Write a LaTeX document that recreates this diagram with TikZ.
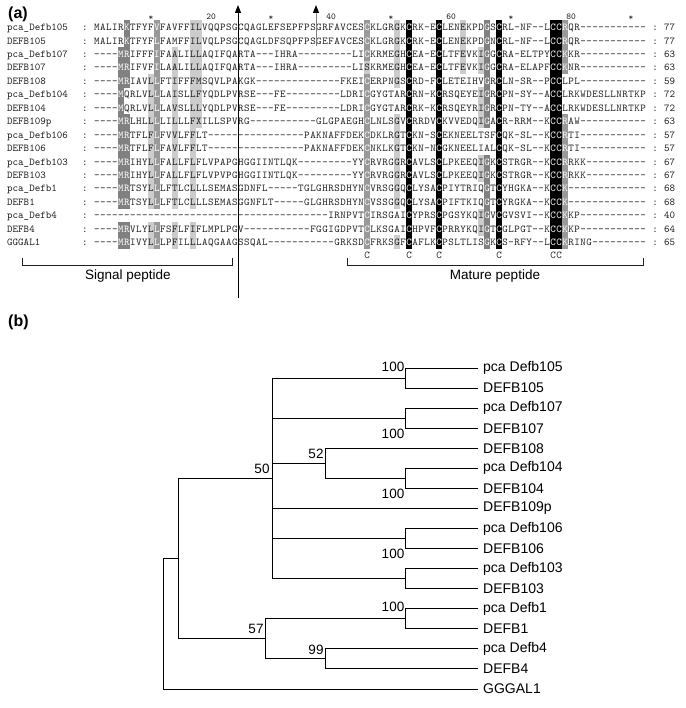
\documentclass[tikz,border=0pt]{standalone}
\usepackage{fontspec}
\setmainfont{Liberation Sans}
\usetikzlibrary{arrows.meta}
\definecolor{seqtext}{gray}{0.12}
\definecolor{shdark}{gray}{0.5}
\definecolor{shmid}{gray}{0.6}
\definecolor{shlight}{gray}{0.8}
\newcount\colc
\def\seqx{97}
\def\pitch{13.45}
\def\yfirst{27}
\def\hp{6.78}
\makeatletter
\newcommand\shadecol[3]{\foreach \r in {#2}{\expandafter\xdef\csname sh@\r @#1\endcsname{#3}}}
\expandafter\def\csname shd.\endcsname{\def\txtcol{seqtext}}
\def\shdb{\fill[black] (\cx-3.1,\rowy-\hp) rectangle (\cx+3.1,\rowy+\hp);\def\txtcol{white}}
\def\shdd{\fill[shdark] (\cx-3.1,\rowy-\hp) rectangle (\cx+3.1,\rowy+\hp);\def\txtcol{white}}
\def\shdm{\fill[shmid] (\cx-3.1,\rowy-\hp) rectangle (\cx+3.1,\rowy+\hp);\def\txtcol{white}}
\def\shdl{\fill[shlight] (\cx-3.1,\rowy-\hp) rectangle (\cx+3.1,\rowy+\hp);\def\txtcol{seqtext}}
\newcommand\seqcell[1]{%
  \pgfmathsetmacro\cx{\seqx+(\the\colc-1)*6}%
  \ifcsname sh@\rowno @\the\colc\endcsname
    \edef\sc{\csname sh@\rowno @\the\colc\endcsname}%
  \else\def\sc{.}\fi
  \csname shd\sc\endcsname
  \node[seqch,text=\txtcol] at (\cx,\rowy+3.6) {#1};}
\def\seqloop#1#2\@nil{%
  \global\advance\colc by 1
  \seqcell{#1}%
  \ifx\relax#2\relax\expandafter\@gobble\else\expandafter\@firstofone\fi{\seqloop#2\@nil}}
\newcommand\seqrow[4]{%
  \def\rowno{#1}%
  \pgfmathsetmacro\rowy{\yfirst+(#1-1)*\pitch}%
  \node[seqname] (name#1) at (7,\rowy+3.6) {#2};
  \node[seqch] (cl#1) at (85,\rowy+3.6) {:};
  \global\colc=0
  \seqloop#3\@nil
  \node[seqch] (cr#1) at (655,\rowy+3.6) {:};
  \node[seqname] (num#1) at (664,\rowy+3.6) {#4};}
\makeatother
\begin{document}
\begin{tikzpicture}[x=1pt,y=-1pt,
  seqch/.style={font=\ttfamily\fontsize{10.5}{10.5}\selectfont,inner sep=0pt,anchor=base,text=seqtext},
  seqname/.style={font=\ttfamily\fontsize{10.5}{10.5}\selectfont,inner sep=0pt,anchor=base west,text=seqtext},
  rul/.style={font=\ttfamily\fontsize{9}{9}\selectfont,inner sep=0pt,anchor=base,text=seqtext},
  panel/.style={font=\bfseries\fontsize{16}{16}\selectfont,inner sep=0pt,anchor=base west},
  leaf/.style={font=\fontsize{14}{14}\selectfont,inner sep=0pt,anchor=west},
  boot/.style={font=\fontsize{13.5}{13.5}\selectfont,inner sep=0pt},
  lbl/.style={font=\fontsize{13.5}{13.5}\selectfont,inner sep=0pt,anchor=base},
  branch/.style={line width=0.9pt,line cap=rect},
  brk/.style={line width=0.8pt,seqtext}]
\fill[white] (0,0) rectangle (685,708);
\useasboundingbox (0,0) rectangle (685,708);
% ---------- panel (a)
\node[panel] (pa) at (8,19) {(a)};
\foreach \c in {10,30,50,70,90}{\node[rul] (st\c) at ({\seqx+(\c-1)*6},21) {*};}
\foreach \c in {20,40,60,80}{\node[rul] (nm\c) at ({\seqx+(\c-1)*6},20) {\c};}
% shading
\shadecol{5}{3,...,14,16,17}{d}
\shadecol{6}{1,2,3,4,5,8,9,...,14,16,17}{d}
\shadecol{10}{5,...,14,16,17}{l}
\shadecol{11}{1,...,14,16,17}{m}
\shadecol{14}{3,...,14,16,17}{l}
\shadecol{17}{1,...,14,16,17}{l}
\shadecol{18}{1,...,8}{l}
\shadecol{46}{1,2,3,5,6,...,17}{m}
\shadecol{46}{4}{l}
\shadecol{51}{1,2,3,4,5,8,9,10,11,12,13,14,17}{l}
\shadecol{53}{1,...,17}{b}
\shadecol{58}{1,...,17}{b}
\shadecol{62}{1,2,3,4}{l}
\shadecol{65}{3,4,6,7,8,11,12,15,16}{l}
\shadecol{66}{1,...,8,11,12,13,14,15,16,17}{d}
\shadecol{68}{1,...,17}{b}
\shadecol{77}{1,...,17}{b}
\shadecol{78}{1,...,17}{b}
\shadecol{79}{1,2,3,4,8,9,...,17}{m}
\seqrow{1}{pca\_Defb105}{MALIRKTFYF VFAVFFILVQ QPSGCQAGLE FSEPFPSGRF AVCESCKLGR GKCRK-ECLE NEKPDGSCRL -NF--LCCRQ R-----------}{77}
\seqrow{2}{DEFB105}{MALIRKTFYF LFAMFFILVQ LPSGCQAGLD FSQPFPSGEF AVCESCKLGR GKCRK-ECLE NEKPDGNCRL -NF--LCCRQ R-----------}{77}
\seqrow{3}{pca\_Defb107}{----MRIFFF IFAALILLAQ IFQARTA--- IHRA------ ---LICKRME GHCEA-ECLT FEVKIGGCRA -ELTPYCCKK R-----------}{63}
\seqrow{4}{DEFB107}{----MRIFVF ILAALILLAQ IFQARTA--- IHRA------ ---LISKRME GHCEA-ECLT FEVKIGGCRA -ELAPFCCKN R-----------}{63}
\seqrow{5}{DEFB108}{----MRIAVL LFTIFFFMSQ VLPAKGK--- ---------- -FKEICERPN GSCRD-FCLE TEIHVGRCLN -SR--PCCLP L-----------}{59}
\seqrow{6}{pca\_Defb104}{----MQRLVL LLAISLLFYQ DLPVRSE--- FE-------- -LDRICGYGT ARCRN-KCRS QEYEIGRCPN -SY--ACCLR KWDESLLNRTKP}{72}
\seqrow{7}{DEFB104}{----MQRLVL LLAVSLLLYQ DLPVRSE--- FE-------- -LDRICGYGT ARCRK-KCRS QEYRIGRCPN -TY--ACCLR KWDESLLNRTKP}{72}
\seqrow{8}{DEFB109p}{----MRLHLL LLILLLFXIL LSPVRG---- -------GLG PAEGHCLNLS GVCRRDVCKV VEDQIGACR- RRM--KCCRA W-----------}{63}
\seqrow{9}{pca\_Defb106}{----MRTFLF LFVVLFFLT- ---------- -----PAKNA FFDEKCDKLR GTCKN-SCEK NEELTSFCQK -SL--KCCRT I-----------}{57}
\seqrow{10}{DEFB106}{----MRTFLF LFAVLFFLT- ---------- -----PAKNA FFDEKCNKLK GTCKN-NCGK NEELIALCQK -SL--KCCRT I-----------}{57}
\seqrow{11}{pca\_Defb103}{----MRIHYL LFALLFLFLV PAPGHGGIIN TLQK------ ---YYCRVRG GRCAVLSCLP KEEQIGKCST RGR--KCCRR KK----------}{67}
\seqrow{12}{DEFB103}{----MRIHYL LFALLFLFLV PVPGHGGIIN TLQK------ ---YYCRVRG GRCAVLSCLP KEEQIGKCST RGR--KCCRR KK----------}{67}
\seqrow{13}{pca\_Defb1}{----MRTSYL LLFTLCLLLS EMASGDNFL- ----TGLGHR SDHYNCVRSG GQCLYSACPI YTRIQGTCYH GKA--KCCK- ------------}{68}
\seqrow{14}{DEFB1}{----MRTSYL LLFTLCLLLS EMASGGNFLT -----GLGHR SDHYNCVSSG GQCLYSACPI FTKIQGTCYR GKA--KCCK- ------------}{68}
\seqrow{15}{pca\_Defb4}{---------- ---------- ---------- ---------I RNPVTCIRSG AICYPRSCPG SYKQIGVCGV SVI--KCCKK P-----------}{40}
\seqrow{16}{DEFB4}{----MRVLYL LFSFLFIFLM PLPGV----- ------FGGI GDPVTCLKSG AICHPVFCPR RYKQIGTCGL PGT--KCCKK P-----------}{64}
\seqrow{17}{GGGAL1}{----MRIVYL LLPFILLLAQ GAAGSSQAL- ---------- GRKSDCFRKS GFCAFLKCPS LTLISGKCS- RFY--LCCKR ING---------}{65}
% consensus
\foreach \c in {46,53,58,68,77,78}{\node[seqch] (cons\c) at ({\seqx+(\c-1)*6},{\yfirst+17*\pitch+2.5}) {C};}
% brackets
\coordinate (sb1) at (22,258); \coordinate (sb2) at (232,258);
\coordinate (mb1) at (347,258); \coordinate (mb2) at (643,258);
\draw[brk] (sb1) -- ++(0,7) -| (sb2);
\draw[brk] (mb1) -- ++(0,7) -| (mb2);
\node[lbl] (sig) at (128,279) {Signal peptide};
\node[lbl] (mat) at (495,279) {Mature peptide};
% arrows
\coordinate (a1b) at (238,298); \coordinate (a1t) at (238,5);
\coordinate (a2b) at (316,46); \coordinate (a2t) at (316,5);
\draw[line width=1pt,-{Triangle[length=8pt,width=6pt]}] (a1b) -- (a1t);
\draw[line width=1pt,gray,-{Triangle[length=8pt,width=6pt,black]}] (a2b) -- (a2t);
% ---------- panel (b)
\node[panel] (pb) at (8,326) {(b)};
\foreach \i/\y/\t in {0/368.0/pca Defb105,1/388.1/DEFB105,2/408.1/pca Defb107,3/428.2/DEFB107,
  4/448.2/DEFB108,5/468.3/pca Defb104,6/488.4/DEFB104,7/508.4/DEFB109p,8/528.5/pca Defb106,
  9/548.5/DEFB106,10/568.6/pca Defb103,11/588.7/DEFB103,12/608.7/pca Defb1,13/628.8/DEFB1,
  14/648.8/pca Defb4,15/668.9/DEFB4,16/689.0/GGGAL1}{
  \coordinate (l\i) at (478,\y);
  \node[leaf] (t\i) at (483,\y) {\t};}
\coordinate (root) at (163,623.8);
\coordinate (nAB) at (178,558.6);
\coordinate (nA) at (272,478.35);
\coordinate (nB) at (265,638.8);
\coordinate (n105) at (405,378.05);
\coordinate (n107) at (405,418.15);
\coordinate (n108) at (325,463.3);
\coordinate (n104) at (405,478.35);
\coordinate (n106) at (405,538.5);
\coordinate (n103) at (405,578.65);
\coordinate (n1) at (405,618.75);
\coordinate (n4) at (325,658.85);
\draw[branch] (root) |- (nAB) (root) |- (l16)
  (nAB) |- (nA) (nAB) |- (nB)
  (nA) |- (n105) (nA) |- (n107) (nA) |- (n108) (nA) |- (l7) (nA) |- (n106) (nA) |- (n103)
  (n105) |- (l0) (n105) |- (l1) (n107) |- (l2) (n107) |- (l3)
  (n108) |- (l4) (n108) |- (n104) (n104) |- (l5) (n104) |- (l6)
  (n106) |- (l8) (n106) |- (l9) (n103) |- (l10) (n103) |- (l11)
  (nB) |- (n1) (nB) |- (n4) (n1) |- (l12) (n1) |- (l13) (n4) |- (l14) (n4) |- (l15);
\node[boot] (b105) at (393,367) {100};
\node[boot] (b107) at (393,434) {100};
\node[boot] (b104) at (393,494) {100};
\node[boot] (b106) at (393,554) {100};
\node[boot] (b1) at (393,607) {100};
\node[boot] (bA) at (262,469) {50};
\node[boot] (b108) at (316,454) {52};
\node[boot] (bB) at (256,629) {57};
\node[boot] (b4) at (316,650) {99};
\end{tikzpicture}
\end{document}
